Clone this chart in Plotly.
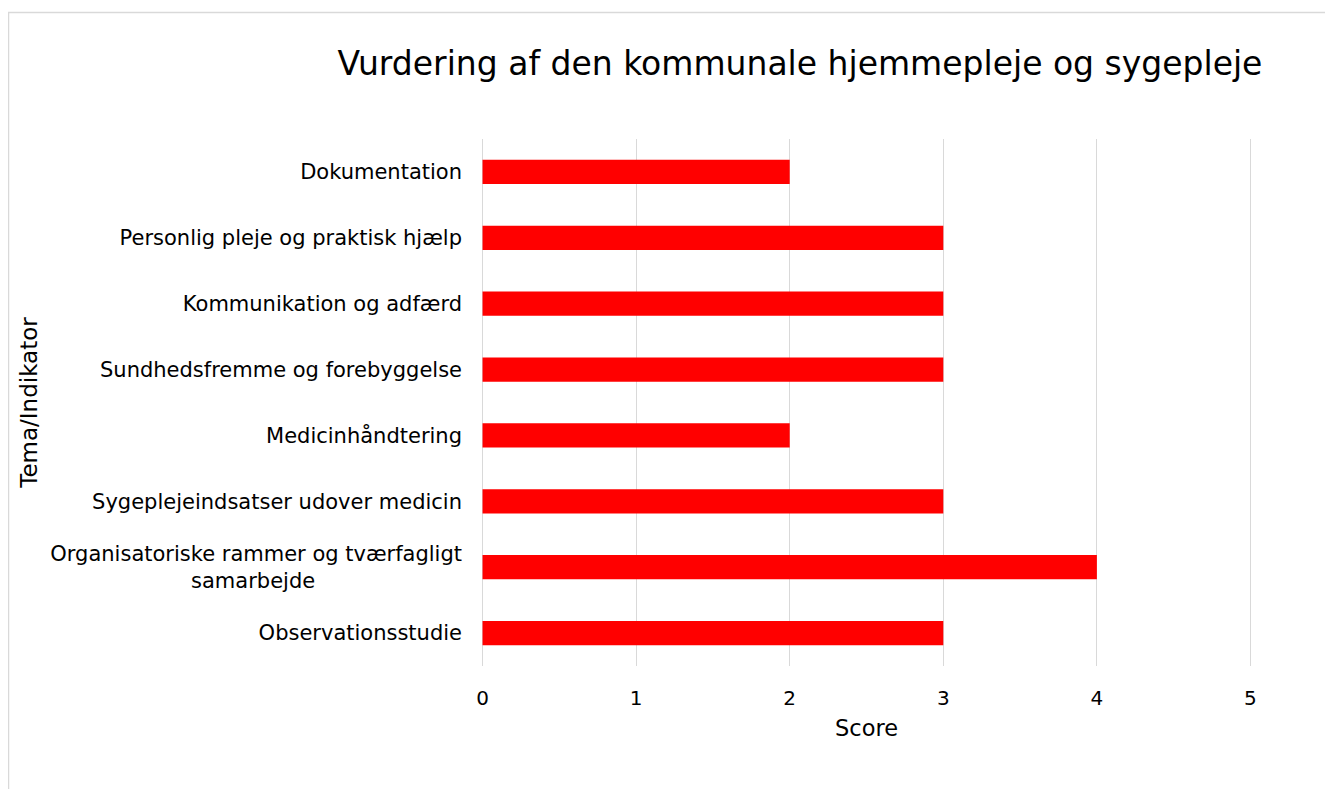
import plotly.graph_objects as go

categories = [
    "Dokumentation",
    "Personlig pleje og praktisk hjælp",
    "Kommunikation og adfærd",
    "Sundhedsfremme og forebyggelse",
    "Medicinhåndtering",
    "Sygeplejeindsatser udover medicin",
    "Organisatoriske rammer og tværfagligt<br>" + "&nbsp;" * 22 + "samarbejde" + "&nbsp;" * 22,
    "Observationsstudie",
]
scores = [2, 3, 3, 3, 2, 3, 4, 3]
x_ticks = [0, 1, 2, 3, 4, 5]

FONT = "DejaVu Sans"
W, H = 1333, 789
OFF = 8  # page body margin
PAD = 0.01
ppu = (1251 - 483) / 5
L = round(483 - OFF - PAD * ppu)
T = 139 - OFF
R = W - L - round((5 + 2 * PAD) * ppu)
B = H - (666 - OFF)
pw, ph = W - L - R, H - T - B

fig = go.Figure(go.Bar(
    x=scores, y=categories, orientation="h",
    marker=dict(color="#FF0000", line=dict(width=0)),
    width=0.37,
))

fig.update_layout(
    width=W, height=H,
    margin=dict(l=L, r=R, t=T, b=B, pad=0),
    paper_bgcolor="white", plot_bgcolor="white",
    font=dict(family=FONT, color="#000000"),
    showlegend=False,
    title=dict(text="Vurdering af den kommunale hjemmepleje og sygepleje",
               x=(800 - OFF) / W, xanchor="center", xref="container",
               y=1 - (63 - OFF) / H, yanchor="middle", yref="container",
               font=dict(size=33, family=FONT, color="#000000")),
    xaxis=dict(range=[-PAD, 5 + PAD], tickvals=x_ticks, showgrid=True, gridcolor="#d9d9d9",
               gridwidth=1, zeroline=False, showline=False, ticks="",
               tickfont=dict(size=20), ticklabelstandoff=18,
               title=dict(text="Score", font=dict(size=22.5), standoff=11)),
    yaxis=dict(autorange="reversed", showgrid=False, zeroline=False, showline=False,
               ticks="", tickfont=dict(size=21), ticklabelstandoff=18,
               title=dict(text="Tema/Indikator", font=dict(size=23), standoff=0)),
)

x0p = (0.5 - L) / pw
y1p = (H - B - (12.5 - OFF)) / ph
fig.add_shape(type="rect", xref="paper", yref="paper",
              x0=x0p, x1=(W + 40 - L) / pw, y0=-(B + 40) / ph, y1=y1p,
              line=dict(color="#d9d9d9", width=1.5), fillcolor="rgba(0,0,0,0)",
              layer="below")

fig.write_html("out.html")
